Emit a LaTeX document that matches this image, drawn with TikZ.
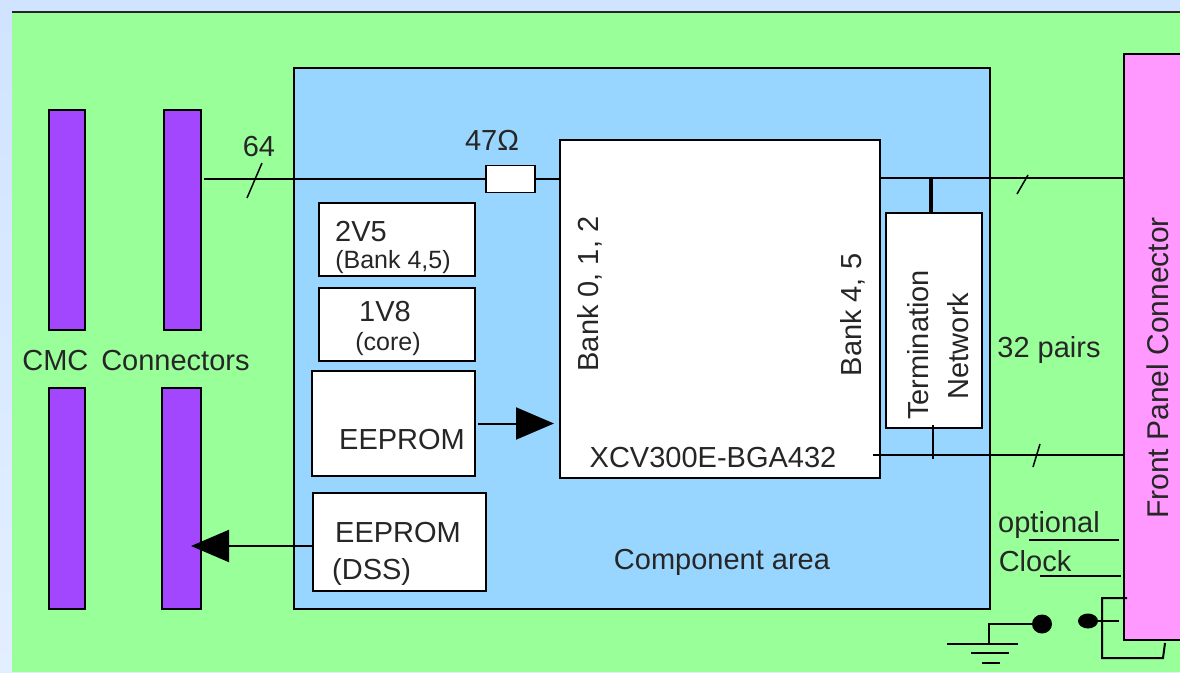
\documentclass[tikz,border=0pt]{standalone}
\usepackage{fontspec}
\setmainfont{Liberation Sans}
\usetikzlibrary{arrows.meta,shapes.geometric}
\definecolor{pagebg}{HTML}{D0E4FF}
\definecolor{boardgreen}{HTML}{99FF99}
\definecolor{areablue}{HTML}{99D6FF}
\definecolor{cmcpurple}{HTML}{A347FF}
\definecolor{panelpink}{HTML}{FF99FF}
\tikzset{
  blockbox/.style={draw=black,line width=1.6pt,inner sep=0pt,outer sep=0pt},
  wire/.style={line width=2pt,black},
  slash/.style={line width=1.5pt,black},
  bigtip/.style={-{Triangle[length=38pt,width=32pt]}},
  lab/.style={font=\fontsize{29}{32}\selectfont,text=black!85,inner sep=0pt},
  smalllab/.style={font=\fontsize{25}{28}\selectfont,text=black!85,inner sep=0pt}
}
\begin{document}
\begin{tikzpicture}[x=1pt,y=-1pt]
\useasboundingbox (0,0) rectangle (1180,672);
\shade[top color=pagebg,bottom color=pagebg!60!white] (0,0) rectangle (1180,672);
% board
\fill[boardgreen] (12,12) rectangle (1180,672);
\draw[line width=1.6pt,black!85] (12,12) -- (1180,12);
% blocks: name/centre x/centre y/width/height/fill
\foreach \n/\x/\y/\w/\h/\c in {
  area/642/338.5/696/541/areablue,
  cmcA/67/220/36/220/cmcpurple, cmcB/182.5/220/37/220/cmcpurple,
  cmcC/67/498.5/36/221/cmcpurple, cmcD/181.5/498.5/39/221/cmcpurple,
  fpga/720/309/320/338/white, res/510.5/179/49/27/white,
  supA/397/239.5/156/73/white, supB/397/324.5/156/73/white,
  eeprom/393.5/423.5/163/105/white, dss/399.5/542/173/98/white,
  term/934/320.5/96/215/white, panel/1159/347/70/586/panelpink}
  \node[blockbox,fill=\c,minimum width=\w pt,minimum height=\h pt] (\n) at (\x,\y) {};
% buses
\draw[wire] (res.west -| cmcB.east) ++(3,0) -- (res.west);
\draw[wire] (res.east) -- (res.east -| fpga.west);
\coordinate (busout) at (880,178);
\coordinate (busin) at (873,455);
\draw[wire] (busout) -- (busout -| panel.west);
\draw[wire] (busin) -- (busin -| panel.west);
\draw[line width=3.5pt] (busout -| term.north) ++(-3,0) -- ++(0,35);
\draw[wire] (933,425) -- (933,459);
\foreach \xa/\ya/\xb/\yb in {262/163/247/198,1028/175/1017/194,1040/444/1033/467}
  \draw[slash] (\xa,\ya) -- (\xb,\yb);
% arrows
\draw[wire,bigtip,shorten >=6pt,shorten <=3pt] (eeprom.east) -- (eeprom.east -| fpga.west);
\coordinate (dssout) at (313,546);
\draw[wire,bigtip,shorten >=-10pt] (dssout) -- (dssout -| cmcD.east);
% clock lines
\coordinate (optline) at (1029,540);
\coordinate (clkline) at (1040,576);
\draw[wire] (optline) -- (1119,540);
\draw[wire] (clkline) -- (1121,576);
% link and ground
\node[fill=black,ellipse,inner sep=0pt,minimum width=20pt,minimum height=19pt] (dotA) at (1042,624) {};
\node[fill=black,ellipse,inner sep=0pt,minimum width=20pt,minimum height=15pt] (dotB) at (1088,621) {};
\coordinate (gnd) at (989,644);
\draw[wire] (dotA.west) -- (gnd |- dotA.west) -- (gnd);
\draw[wire] (947,644) -- (1018,644);
\draw[wire] (971,653) -- (1009,653);
\draw[wire] (982,663) -- (1000,663);
\draw[wire] (dotB.east) -- (1119,621);
\draw[wire] (1127,598) -- (1102,598) -- (1102,658) -- (1163,658) -- (1165,643);
% labels
\node[lab] (lab64) at (259,147) {64};
\node[lab] (labres) at (492,140) {47Ω};
\node[lab] (labcmc) at (136,361) {CMC\, Connectors};
\node[lab] (lab2v5) at (361,232) {2V5};
\node[smalllab] (labbank) at (393,262) {(Bank 4,5)};
\node[lab] (lab1v8) at (385,312) {1V8};
\node[smalllab] (labcore) at (388,344) {(core)};
\node[lab] (labee) at (402,440) {EEPROM};
\node[lab] (labdss) at (398,533) {EEPROM};
\node[lab,anchor=west] (labdssb) at (332,572) {(DSS)};
\node[lab,rotate=90] (labbanka) at (590,294) {Bank 0, 1, 2};
\node[lab,rotate=90] (labbankb) at (853,315) {Bank 4, 5};
\node[lab] (labxcv) at (713,458) {XCV300E-BGA432};
\node[lab] (labarea) at (722,562) {Component area};
\node[lab,rotate=90] (labterm) at (918,345) {Termination};
\node[lab,rotate=90] (labnet) at (958,346) {Network};
\node[lab] (labpairs) at (1049,350) {32 pairs};
\node[lab] (labopt) at (1049,525) {optional};
\node[lab] (labclk) at (1035,561) {Clock};
\node[lab,rotate=90] (labpanel) at (1158,368) {\fontsize{30}{32}\selectfont Front Panel Connector};
\end{tikzpicture}
\end{document}
